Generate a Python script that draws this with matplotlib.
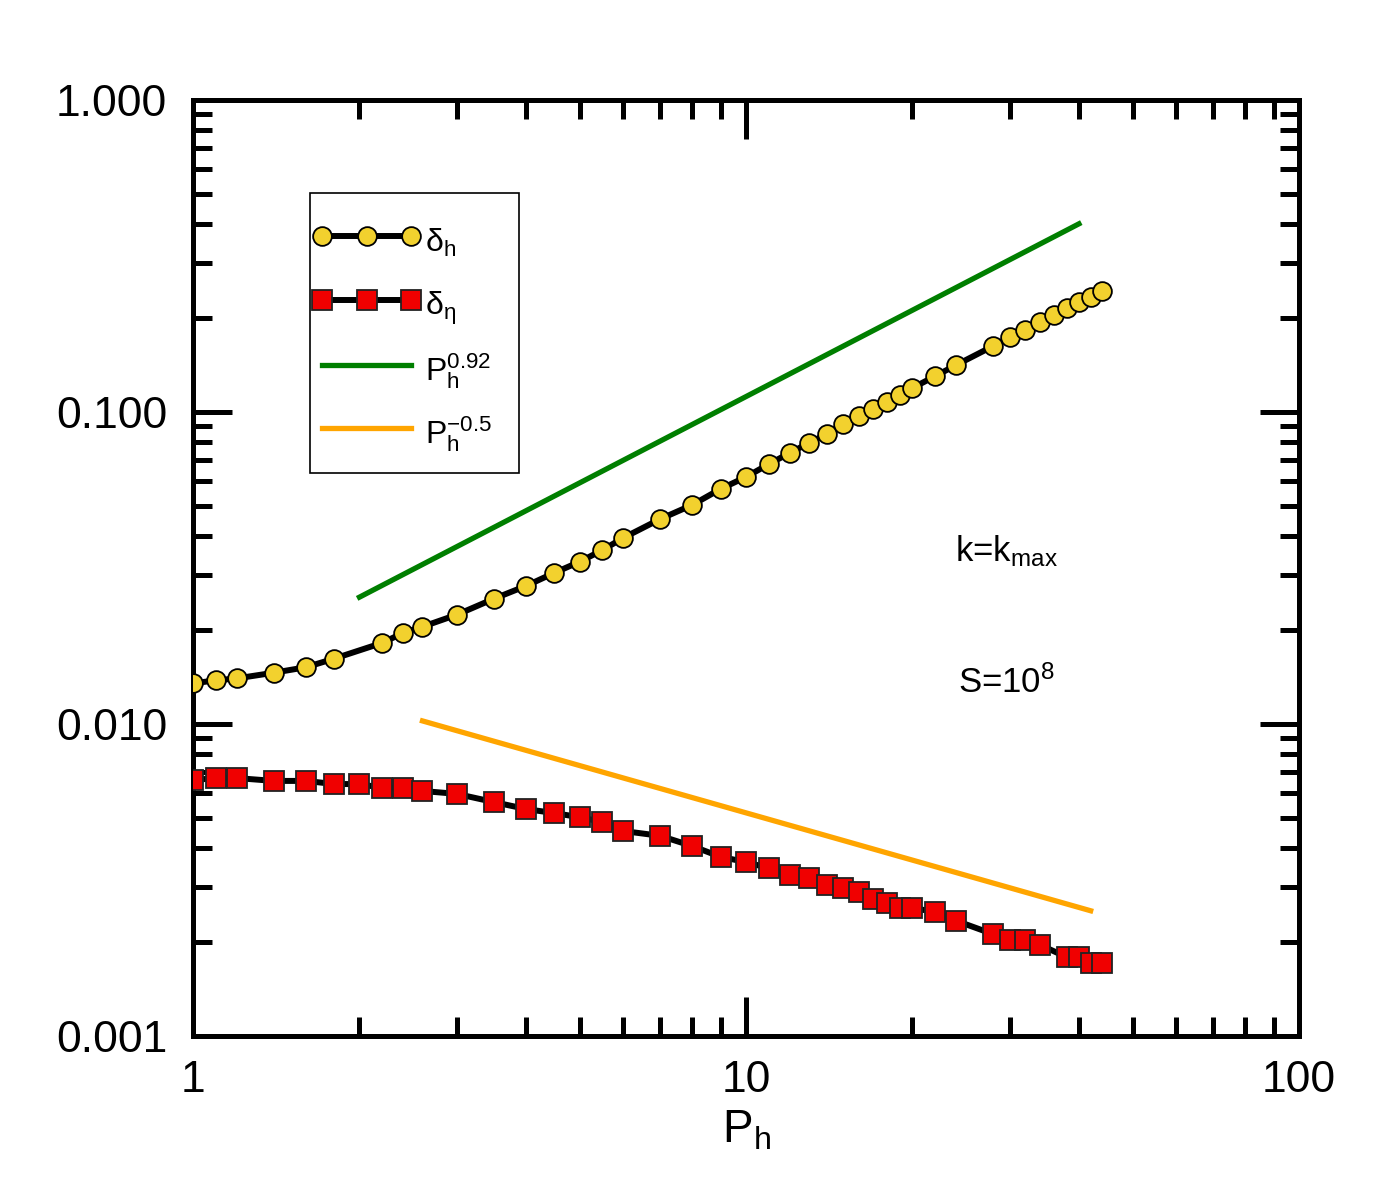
import matplotlib
matplotlib.use("Agg")
import matplotlib.pyplot as plt
from matplotlib.lines import Line2D
from matplotlib.patches import Rectangle
from matplotlib.legend_handler import HandlerLine2D
from matplotlib.ticker import LogLocator, FixedLocator, FixedFormatter, NullFormatter

plt.rcParams['font.family'] = ['Liberation Sans', 'DejaVu Sans']
plt.rcParams['mathtext.fontset'] = 'custom'
plt.rcParams['mathtext.rm'] = 'Liberation Sans'
plt.rcParams['mathtext.it'] = 'Liberation Sans:italic'
plt.rcParams['mathtext.sf'] = 'Liberation Sans'

# delta_h data
ph_h = [1.0, 1.1, 1.2, 1.4, 1.6, 1.8, 2.2, 2.4, 2.6, 3.0, 3.5, 4.0, 4.5, 5.0, 5.5, 6.0,
        7, 8, 9, 10, 11, 12, 13, 14, 15, 16, 17, 18, 19, 20, 22, 24, 28, 30, 32, 34,
        36, 38, 40, 42, 44]
delta_h = [0.0135, 0.0138, 0.0140, 0.0146, 0.0152, 0.0162, 0.0182, 0.0196, 0.0205,
           0.0224, 0.0252, 0.0277, 0.0305, 0.0331, 0.0361, 0.0395, 0.0454, 0.0504,
           0.0567, 0.0619, 0.0681, 0.0739, 0.0796, 0.0850, 0.0915, 0.0971, 0.1023,
           0.1077, 0.1133, 0.1194, 0.1304, 0.1415, 0.1628, 0.1738, 0.1832, 0.1942,
           0.2047, 0.2155, 0.2253, 0.2338, 0.2443]

# delta_eta data
ph_eta = [1.0, 1.1, 1.2, 1.4, 1.6, 1.8, 2.0, 2.2, 2.4, 2.6, 3.0, 3.5, 4.0, 4.5, 5.0,
          5.5, 6.0, 7, 8, 9, 10, 11, 12, 13, 14, 15, 16, 17, 18, 19, 20, 22, 24, 28,
          30, 32, 34, 38, 40, 42, 44]
delta_eta = [0.00661, 0.00671, 0.00671, 0.00657, 0.00657, 0.00642, 0.00642, 0.00624,
             0.00624, 0.00610, 0.00597, 0.00562, 0.00534, 0.00518, 0.00503, 0.00485,
             0.00454, 0.00438, 0.00406, 0.00375, 0.00361, 0.00345, 0.00328, 0.00321,
             0.00305, 0.00298, 0.00289, 0.00275, 0.00267, 0.00257, 0.00257, 0.00250,
             0.00234, 0.00212, 0.00203, 0.00203, 0.00196, 0.00179, 0.00179, 0.00171,
             0.00171]

# guide lines
green_x = [2.0, 40.0]
green_y = [0.0255, 0.401]
orange_x = [2.6, 42.0]
orange_y = [0.01023, 0.00252]

y_ticks = [0.001, 0.01, 0.1, 1.0]
y_ticklabels = ['0.001', '0.010', '0.100', '1.000']
x_ticks = [1, 10, 100]
x_ticklabels = ['1', '10', '100']

fig = plt.figure(figsize=(13.75, 11.96), dpi=100)
ax = fig.add_axes([193/1375, 1 - 1036/1196, (1299-193)/1375, (1036-100)/1196])

ax.plot(ph_h, delta_h, '-', color='black', lw=4.3, marker='o', ms=13.5,
        mfc='#F2D12E', mec='black', mew=1.3, label=r'δ$_\mathrm{h}$', zorder=4)
ax.plot(ph_eta, delta_eta, '-', color='black', lw=4.3, marker='s', ms=14,
        mfc='#F00000', mec='#222222', mew=1.3, label=r'δ$_\mathrm{η}$', zorder=4)
ax.plot(green_x, green_y, '-', color='#007F00', lw=3.8,
        label=r'$\mathrm{P}_\mathrm{h}^{0.92}$', zorder=3)
ax.plot(orange_x, orange_y, '-', color='#FFA500', lw=3.8,
        label=r'$\mathrm{P}_\mathrm{h}^{-0.5}$', zorder=3)

ax.set_xscale('log')
ax.set_yscale('log')
ax.set_xlim(1, 100)
ax.set_ylim(0.001, 1.0)

ax.yaxis.set_major_locator(FixedLocator(y_ticks))
ax.yaxis.set_major_formatter(FixedFormatter(y_ticklabels))
ax.xaxis.set_major_locator(FixedLocator(x_ticks))
ax.xaxis.set_major_formatter(FixedFormatter(x_ticklabels))
ax.xaxis.set_minor_locator(LogLocator(base=10, subs=range(2, 10)))
ax.yaxis.set_minor_locator(LogLocator(base=10, subs=range(2, 10)))
ax.xaxis.set_minor_formatter(NullFormatter())
ax.yaxis.set_minor_formatter(NullFormatter())

ax.tick_params(which='both', direction='in', top=True, right=True, width=3.6)
ax.tick_params(which='major', length=28, labelsize=32)
ax.tick_params(axis='y', which='major', pad=18.5)
ax.tick_params(axis='x', which='major', pad=17)
ax.tick_params(which='minor', length=14)
for s in ax.spines.values():
    s.set_linewidth(3.6)

ax.set_xlabel(r'$\mathrm{P}_\mathrm{h}$', fontsize=33, labelpad=6)

# legend frame box (drawn inside the axes, beneath the legend entries)
ax.add_patch(Rectangle((310/1375, 1 - 473/1196), 209/1375, 280/1196,
                       transform=fig.transFigure, facecolor='white',
                       edgecolor='black', lw=1.2, zorder=4.5, clip_on=False))

leg = ax.legend(loc='upper left', bbox_to_anchor=(322/1375, 1 - 221/1196),
                bbox_transform=fig.transFigure, fontsize=23, frameon=False,
                numpoints=3, handlelength=2.8, handleheight=1.6,
                handletextpad=0.42, labelspacing=0.69, borderpad=0,
                borderaxespad=0,
                handler_map={Line2D: HandlerLine2D(marker_pad=0)})
leg.set_zorder(6)

ax.text(955/1375, 1 - 551/1196, r'k=k$_\mathrm{max}$', transform=fig.transFigure,
        fontsize=25, ha='left', va='center')
ax.text(958/1375, 1 - 683/1196, r'S=10$^\mathrm{8}$', transform=fig.transFigure,
        fontsize=25, ha='left', va='center')

fig.savefig('out.png', dpi=100)
